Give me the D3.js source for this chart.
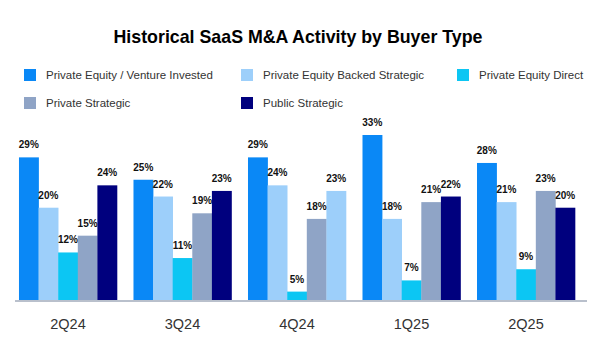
<!DOCTYPE html>
<html lang="en">
<head>
<meta charset="UTF-8">
<title>Historical SaaS M&amp;A Activity by Buyer Type</title>
<script src="https://cdn.jsdelivr.net/npm/d3@7"></script>
<style>
    body{ margin:0; background:#fff; }
    svg{ display:block; font-family:"Liberation Sans", Arial, sans-serif; }
    .title{ font-size:17.8px; font-weight:bold; fill:#000; }
    .legend text{ font-size:11.5px; fill:#333; }
    .xlabel{ font-size:14.5px; fill:#333; }
    .val{ font-size:10px; font-weight:bold; fill:#111; }
</style>
</head>
<body>
<svg id="main" width="601" height="337"></svg>
<script>
    // data
    const quarters = ["2Q24", "3Q24", "4Q24", "1Q25", "2Q25"]
    const buyerTypes = ["Private Equity / Venture Invested", "Private Equity Backed Strategic",
        "Private Equity Direct", "Private Strategic", "Public Strategic"]
    const peVenture      = [29, 25, 29, 33, 28]
    const peBackedStrat  = [20, 22, 24, 18, 21]
    const peDirect       = [12, 11, 5, 7, 9]
    const privateStrat   = [15, 19, 18, 21, 23]
    const publicStrat    = [24, 23, 23, 22, 20]
    const seriesValues = [peVenture, peBackedStrat, peDirect, privateStrat, publicStrat]

    const colors = ["#0a88f6", "#9dcffa", "#0cc6f3", "#8fa4c6", "#00007e"]
    // in the source the 4Q24 public strategic bar is drawn light blue
    const colorOverride = {"4Q24|Public Strategic": "#9dcffa"}

    const svg = d3.select("#main")
    const baseY = 300

    svg.append("text")
        .attr("class", "title")
        .attr("x", 298).attr("y", 43)
        .attr("text-anchor", "middle")
        .text("Historical SaaS M&A Activity by Buyer Type")

    // legend
    const legendPos = [[24, 69], [241, 69], [457, 69], [24, 97], [241, 97]]
    const legend = svg.append("g").attr("class", "legend")
    buyerTypes.forEach((t, i) => {
        const g = legend.append("g").attr("transform", `translate(${legendPos[i][0]},${legendPos[i][1]})`)
        g.append("rect").attr("width", 12).attr("height", 12).attr("fill", colors[i])
        g.append("text").attr("x", 22).attr("y", 6).attr("dy", "0.35em").text(t)
    })

    const x = d3.scaleBand()
        .domain(quarters)
        .range([16, 578])
        .paddingInner(0.144)
        .paddingOuter(0.026)
    const xInner = d3.scaleBand()
        .domain(buyerTypes)
        .range([0, x.bandwidth()])
    const y = d3.scaleLinear()
        .domain([3.5, 33])
        .range([baseY, 135])

    const rows = quarters.map((q, qi) => ({
        q,
        items: buyerTypes.map((b, bi) => ({q, b, bi, v: seriesValues[bi][qi]}))
    }))

    const groups = svg.append("g").selectAll("g")
        .data(rows)
        .enter()
        .append("g")
        .attr("transform", d => `translate(${x(d.q)},0)`)

    groups.selectAll("rect")
        .data(d => d.items)
        .enter()
        .append("rect")
        .attr("x", d => xInner(d.b))
        .attr("width", xInner.bandwidth() + 0.3)
        .attr("y", d => y(d.v))
        .attr("height", d => baseY - y(d.v))
        .attr("fill", d => colorOverride[d.q + "|" + d.b] || colors[d.bi])

    groups.selectAll("text")
        .data(d => d.items)
        .enter()
        .append("text")
        .attr("class", "val")
        .attr("x", d => xInner(d.b) + xInner.bandwidth() / 2)
        .attr("y", d => y(d.v) - 9)
        .attr("text-anchor", "middle")
        .text(d => d.v + "%")

    // baseline + quarter labels
    const xAxis = d3.axisBottom(x).tickSize(0).tickPadding(18)
    const ax = svg.append("g")
        .attr("transform", `translate(0,${baseY + 1})`)
        .call(xAxis)
    ax.select(".domain").remove()
    ax.selectAll("text").attr("class", "xlabel").attr("font-family", null).attr("font-size", null)
    svg.append("line")
        .attr("x1", 15).attr("x2", 587)
        .attr("y1", baseY + 1).attr("y2", baseY + 1)
        .attr("stroke", "#b9c0cc").attr("stroke-width", 2)
</script>
</body>
</html>
